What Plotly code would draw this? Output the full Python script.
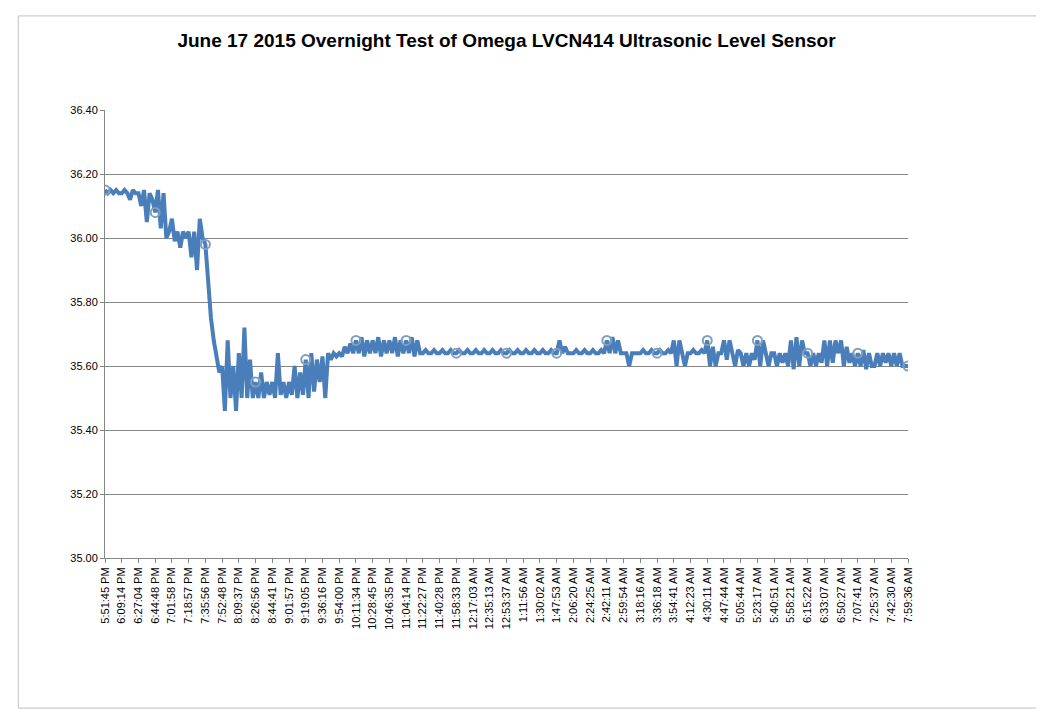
import plotly.graph_objects as go

# tick labels along the category axis (one every 6 samples)
tick_labels = [
    "5:51:45 PM", "6:09:14 PM", "6:27:04 PM", "6:44:48 PM", "7:01:58 PM", "7:18:57 PM",
    "7:35:56 PM", "7:52:48 PM", "8:09:37 PM", "8:26:56 PM", "8:44:41 PM", "9:01:57 PM",
    "9:19:05 PM", "9:36:16 PM", "9:54:00 PM", "10:11:34 PM", "10:28:45 PM", "10:46:35 PM",
    "11:04:14 PM", "11:22:27 PM", "11:40:28 PM", "11:58:33 PM", "12:17:03 AM", "12:35:13 AM",
    "12:53:37 AM", "1:11:56 AM", "1:30:02 AM", "1:47:53 AM", "2:06:20 AM", "2:24:25 AM",
    "2:42:11 AM", "2:59:54 AM", "3:18:16 AM", "3:36:18 AM", "3:54:41 AM", "4:12:23 AM",
    "4:30:11 AM", "4:47:44 AM", "5:05:44 AM", "5:23:17 AM", "5:40:51 AM", "5:58:21 AM",
    "6:15:22 AM", "6:33:07 AM", "6:50:27 AM", "7:07:41 AM", "7:25:37 AM", "7:42:30 AM",
    "7:59:36 AM",
]

# sensor level readings, six per label interval
level_rows = [
    [36.15, 36.14, 36.15, 36.14, 36.15, 36.14],
    [36.14, 36.15, 36.14, 36.12, 36.15, 36.14],
    [36.14, 36.10, 36.15, 36.05, 36.14, 36.12],
    [36.08, 36.15, 36.03, 36.14, 36.00, 36.02],
    [36.06, 35.99, 36.02, 35.97, 36.02, 36.00],
    [36.02, 35.94, 36.02, 35.90, 36.06, 36.00],
    [35.98, 35.85, 35.75, 35.68, 35.62, 35.58],
    [35.60, 35.46, 35.68, 35.50, 35.60, 35.46],
    [35.64, 35.50, 35.72, 35.50, 35.62, 35.50],
    [35.55, 35.50, 35.58, 35.50, 35.55, 35.51],
    [35.55, 35.50, 35.64, 35.51, 35.55, 35.50],
    [35.55, 35.51, 35.60, 35.50, 35.58, 35.51],
    [35.62, 35.50, 35.64, 35.52, 35.62, 35.55],
    [35.63, 35.50, 35.64, 35.62, 35.64, 35.63],
    [35.64, 35.63, 35.66, 35.64, 35.67, 35.64],
    [35.68, 35.64, 35.69, 35.63, 35.68, 35.64],
    [35.68, 35.64, 35.69, 35.63, 35.68, 35.64],
    [35.68, 35.64, 35.69, 35.63, 35.68, 35.64],
    [35.68, 35.64, 35.69, 35.63, 35.68, 35.64],
    [35.64, 35.65, 35.64, 35.64, 35.65, 35.64],
    [35.64, 35.65, 35.64, 35.64, 35.65, 35.64],
    [35.64, 35.65, 35.64, 35.64, 35.65, 35.64],
    [35.64, 35.65, 35.64, 35.64, 35.65, 35.64],
    [35.64, 35.65, 35.64, 35.64, 35.65, 35.64],
    [35.64, 35.65, 35.64, 35.64, 35.65, 35.64],
    [35.64, 35.65, 35.64, 35.64, 35.65, 35.64],
    [35.64, 35.65, 35.64, 35.64, 35.65, 35.64],
    [35.64, 35.68, 35.64, 35.66, 35.64, 35.64],
    [35.64, 35.65, 35.64, 35.64, 35.65, 35.64],
    [35.64, 35.65, 35.64, 35.64, 35.65, 35.64],
    [35.68, 35.64, 35.69, 35.64, 35.68, 35.64],
    [35.64, 35.64, 35.60, 35.64, 35.64, 35.64],
    [35.64, 35.65, 35.64, 35.64, 35.65, 35.64],
    [35.64, 35.65, 35.64, 35.64, 35.65, 35.64],
    [35.68, 35.60, 35.68, 35.64, 35.60, 35.64],
    [35.64, 35.65, 35.64, 35.64, 35.65, 35.64],
    [35.68, 35.60, 35.66, 35.60, 35.64, 35.64],
    [35.68, 35.62, 35.68, 35.64, 35.60, 35.65],
    [35.64, 35.60, 35.64, 35.60, 35.64, 35.62],
    [35.68, 35.60, 35.68, 35.64, 35.60, 35.64],
    [35.64, 35.60, 35.64, 35.61, 35.64, 35.60],
    [35.68, 35.59, 35.69, 35.60, 35.68, 35.64],
    [35.64, 35.60, 35.64, 35.60, 35.64, 35.61],
    [35.68, 35.60, 35.68, 35.61, 35.68, 35.64],
    [35.68, 35.60, 35.66, 35.61, 35.64, 35.60],
    [35.64, 35.60, 35.65, 35.59, 35.64, 35.60],
    [35.60, 35.64, 35.60, 35.64, 35.61, 35.64],
    [35.60, 35.64, 35.60, 35.64, 35.60, 35.60],
]
last_level = 35.60

levels = [v for row in level_rows for v in row] + [last_level]
idx = list(range(len(levels)))
tick_idx = list(range(0, len(levels), 6))

LINE = "#4a7ebb"

fig = go.Figure()
fig.add_trace(go.Scatter(
    x=idx, y=levels, mode="lines",
    line=dict(color=LINE, width=4),
    showlegend=False,
))
# Excel draws a marker every so many points
mk = idx[::18]
fig.add_trace(go.Scatter(
    x=mk, y=[levels[i] for i in mk], mode="markers",
    marker=dict(symbol="circle-open", size=9, color="#7f9fc0", line=dict(width=2)),
    showlegend=False,
))

fig.update_layout(
    width=1044, height=710,
    paper_bgcolor="white", plot_bgcolor="white",
    margin=dict(l=97, r=144, t=102, b=160, autoexpand=False),
    title=dict(text="<b>June 17 2015 Overnight Test of Omega LVCN414 Ultrasonic Level Sensor</b>",
               x=0.5, xref="paper", y=1 - 32 / 710, yanchor="middle",
               font=dict(family="Liberation Sans", size=19, color="black")),
    font=dict(family="Liberation Sans", size=11, color="black"),
    xaxis=dict(tickmode="array", tickvals=tick_idx, ticktext=tick_labels,
               tickangle=-90, range=[0, len(levels) - 1], showgrid=False,
               showline=True, linecolor="#868686", ticks="outside",
               ticklen=4, tickcolor="#868686", zeroline=False, automargin=False),
    yaxis=dict(range=[35.0, 36.4], dtick=0.2, tickformat=".2f",
               showgrid=True, gridcolor="#868686", showline=True,
               linecolor="#868686", zeroline=False, ticks="outside",
               ticklen=4, tickcolor="#868686", automargin=False),
    shapes=[dict(type="rect", xref="paper", yref="paper",
                 x0=-0.108, x1=1.168, y0=-0.335, y1=1.21,
                 line=dict(color="#c0c0c0", width=1))],
)

fig.write_html("out.html")
